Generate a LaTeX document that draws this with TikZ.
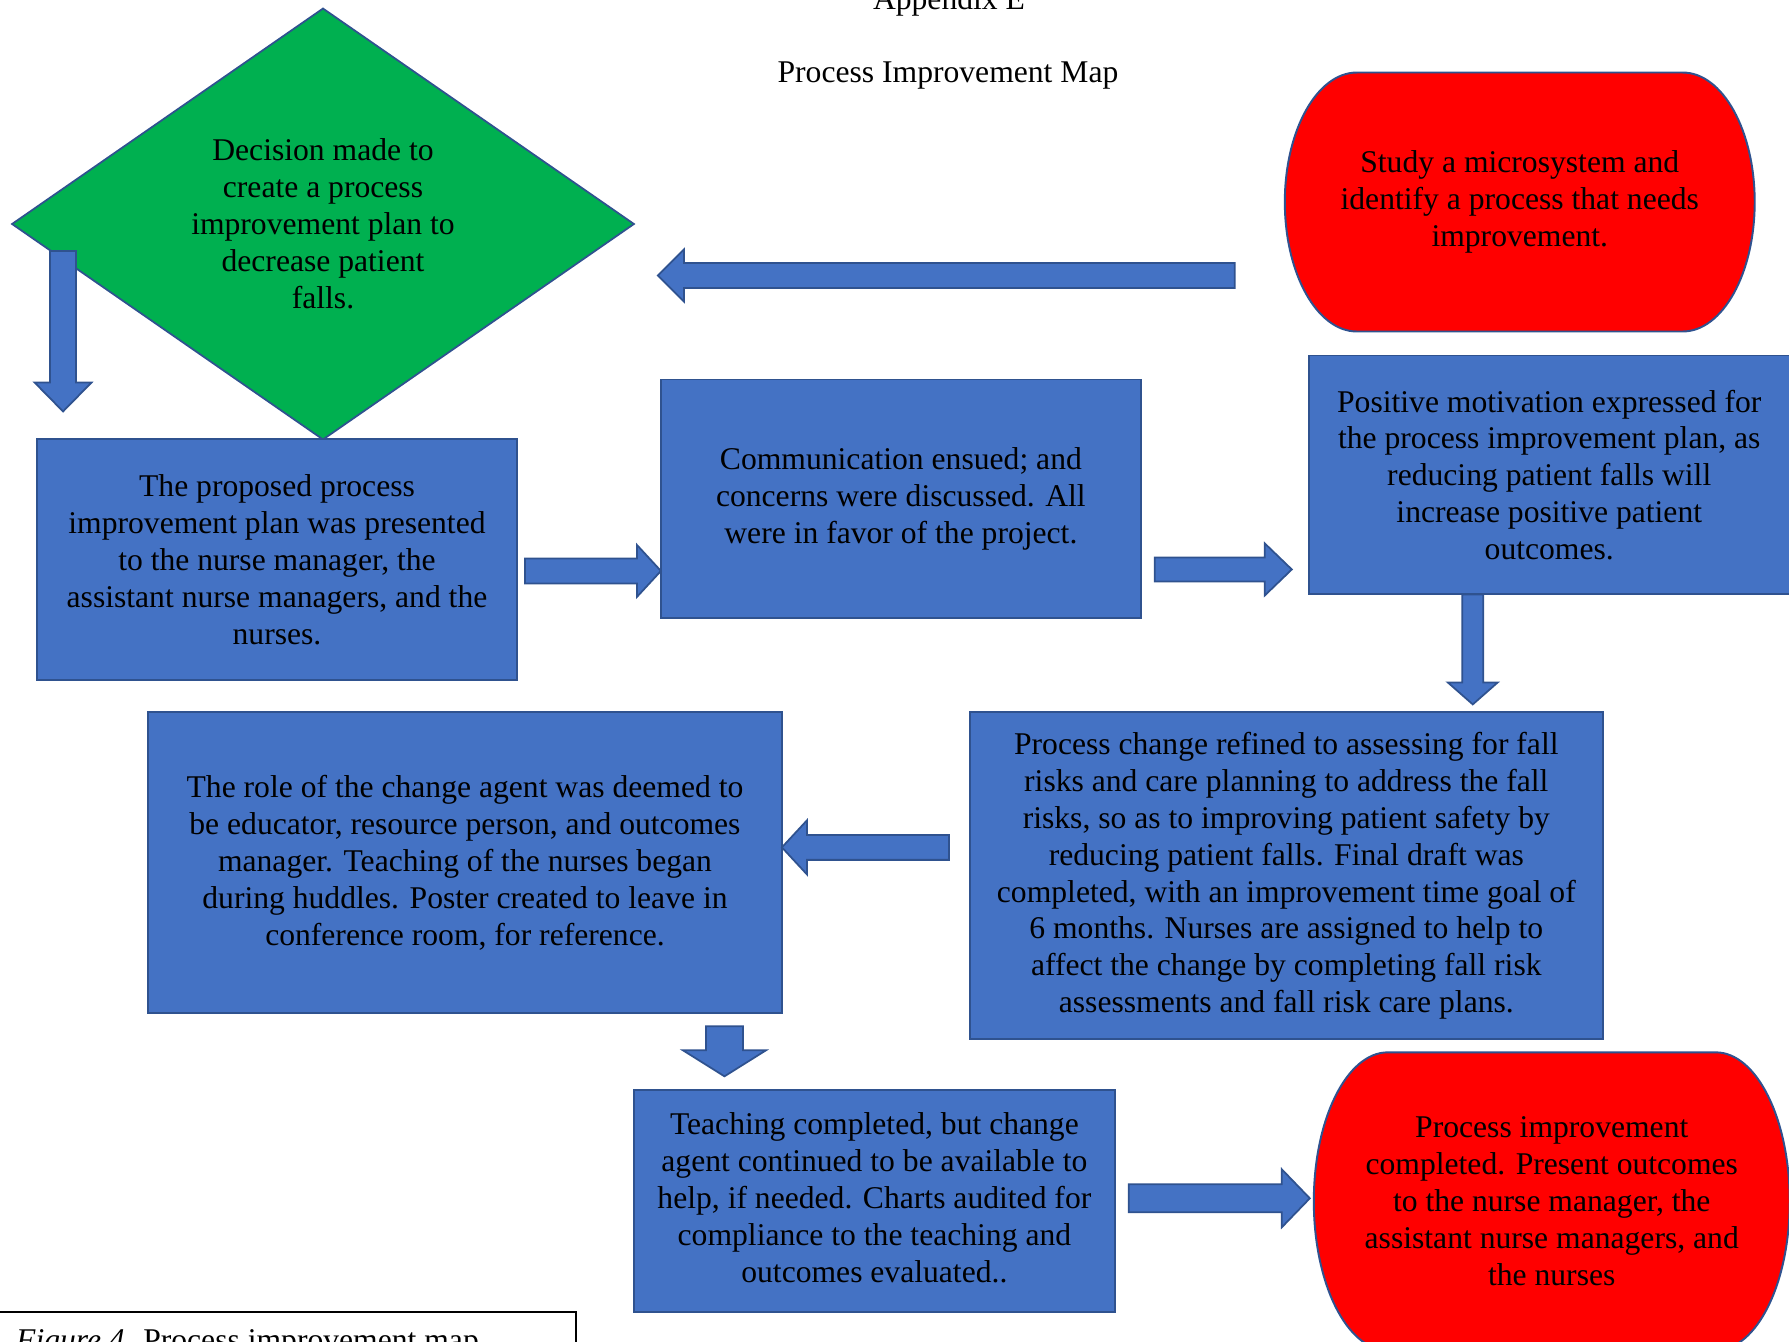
\documentclass[tikz,border=0pt]{standalone}
\usepackage{fontspec}
\setmainfont{Liberation Serif}
\usetikzlibrary{positioning,shapes.geometric,calc,backgrounds}

\definecolor{boxblue}{HTML}{4472C4}
\definecolor{edgeblue}{HTML}{2F528F}
\definecolor{flowgreen}{HTML}{00B050}

% fat arrow: from, to, half shaft, half head, head length (px)
\newcommand{\blockarrow}[5]{%
  \filldraw[arrowbody] let \p1=(#1), \p2=(#2),
    \n1={atan2(\y2-\y1,\x2-\x1)}, \n2={veclen(\x2-\x1,\y2-\y1)} in
    [shift={(\p1)}, rotate=\n1]
    (0pt,-#3*0.569pt) -- (\n2-#5*0.569pt,-#3*0.569pt) -- (\n2-#5*0.569pt,-#4*0.569pt)
    -- (\n2,0pt) -- (\n2-#5*0.569pt,#4*0.569pt) -- (\n2-#5*0.569pt,#3*0.569pt)
    -- (0pt,#3*0.569pt) -- cycle;}
% terminator outline behind a node: node, x radius, y radius
\newcommand{\terminal}[3]{%
  \filldraw[termfill] ([xshift=#2]#1.north west) -- ([xshift=-#2]#1.north east)
    arc[start angle=90, end angle=-90, x radius=#2, y radius=#3]
    -- ([xshift=#2]#1.south west)
    arc[start angle=270, end angle=90, x radius=#2, y radius=#3] -- cycle;}

\begin{document}
\begin{tikzpicture}[x=0.02cm, y=-0.02cm,
  every node/.style={font=\fontsize{18}{21}\selectfont, align=center},
  block/.style={draw=edgeblue, fill=boxblue, line width=1.1pt, inner sep=0pt, outer sep=0pt},
  decision/.style={diamond, aspect=1.44, draw=edgeblue, fill=flowgreen, line width=1pt,
    inner sep=0pt, outer sep=0pt, minimum width=12.44cm, minimum height=8.62cm},
  termtext/.style={inner sep=0pt, outer sep=0pt},
  termfill/.style={draw=edgeblue, fill=red, line width=1.1pt},
  arrowbody/.style={draw=edgeblue, fill=boxblue, line width=1pt, line join=miter}]
\useasboundingbox (0,0) rectangle (1789,1342);

\node[anchor=base] (title) at (949,10) {Appendix E};
\node[anchor=base] (subtitle) at (948,82) {Process Improvement Map};

\node[decision] (decide) at (323,224) {Decision made to\\create a process\\improvement plan to\\decrease patient\\falls.};
\node[block, minimum width=9.6cm, minimum height=4.82cm, below=0cm of decide, xshift=-0.92cm] (present)
  {The proposed process\\improvement plan was presented\\to the nurse manager, the\\assistant nurse managers, and the\\nurses.};
\node[block, minimum width=9.6cm, minimum height=4.78cm, right=2.88cm of present, yshift=1.22cm] (discuss)
  {Communication ensued; and\\concerns were discussed. All\\were in favor of the project.};
\node[block, minimum width=9.62cm, minimum height=4.78cm, right=3.36cm of discuss, yshift=0.48cm] (motivate)
  {Positive motivation expressed for\\the process improvement plan, as\\reducing patient falls will\\increase positive patient\\outcomes.};
\node[termtext, minimum width=9.4cm, minimum height=5.18cm, above=0.48cm of motivate, xshift=-0.59cm] (study)
  {Study a microsystem and\\identify a process that needs\\improvement.};
\node[block, minimum width=12.66cm, minimum height=6.54cm, below=2.36cm of motivate, xshift=-5.26cm] (refine)
  {Process change refined to assessing for fall\\risks and care planning to address the fall\\risks, so as to improving patient safety by\\reducing patient falls. Final draft was\\completed, with an improvement time goal of\\6 months. Nurses are assigned to help to\\affect the change by completing fall risk\\assessments and fall risk care plans.};
\node[block, minimum width=12.68cm, minimum height=6.02cm, left=3.76cm of refine, yshift=0.26cm] (role)
  {The role of the change agent was deemed to\\be educator, resource person, and outcomes\\manager. Teaching of the nurses began\\during huddles. Poster created to leave in\\conference room, for reference.};
\node[block, minimum width=9.62cm, minimum height=4.44cm, below=1.54cm of role, xshift=8.19cm] (teach)
  {\raisebox{5pt}{\begin{tabular}{@{}c@{}}Teaching completed, but change\\agent continued to be available to\\help, if needed. Charts audited for\\compliance to the teaching and\\outcomes evaluated..\end{tabular}}};
\node[termtext, minimum width=9.52cm, minimum height=5.96cm, right=3.98cm of teach] (report)
  {Process improvement\\completed. Present outcomes\\to the nurse manager, the\\assistant nurse managers, and\\the nurses};

\begin{scope}[on background layer]
\terminal{study}{1.44cm}{2.59cm}
\terminal{report}{1.48cm}{2.98cm}
\end{scope}

% arrows
\coordinate (a0) at ($(decide.west)+(51,27)$);
\coordinate (t0) at ($(present.north)+(0,-28)$);
\coordinate (a1) at ($(present.east)+(8,11)$);
\coordinate (a2) at ($(discuss.east)+(14,70.5)$);
\coordinate (t2) at ($(motivate.west)+(-17,0)$);
\coordinate (a3) at ($(study.west)+(-50,73.5)$);
\coordinate (t3) at ($(decide.east)+(24,0)$);
\coordinate (a4) at ($(motivate.south)+(-76.5,0)$);
\coordinate (t4) at ($(refine.north)+(0,-8)$);
\coordinate (a5) at ($(refine.west)+(-21,-28.5)$);
\coordinate (a6) at ($(role.south)+(259.5,13)$);
\coordinate (t6) at ($(teach.north)+(0,-14)$);
\coordinate (a7) at ($(teach.east)+(14,-3)$);
\coordinate (t7) at ($(report.west)+(-4,0)$);
\blockarrow{a0}{a0 |- t0}{13}{28.5}{29}
\blockarrow{a1}{a1 -| discuss.west}{12.5}{26}{24}
\blockarrow{a2}{a2 -| t2}{12}{26}{27}
\blockarrow{a3}{a3 -| t3}{12.5}{26}{26}
\blockarrow{a4}{a4 |- t4}{10.5}{25}{22}
\blockarrow{a5}{a5 -| role.east}{12.5}{27}{25}
\blockarrow{a6}{a6 |- t6}{18.5}{41.5}{26}
\blockarrow{a7}{a7 -| t7}{14}{29}{28}

\node[anchor=base west] (caption) at (10,1350) {\textit{Figure 4.} Process improvement map.};
\draw[line width=0.6pt] (-2,1312) rectangle (576,1400);
\end{tikzpicture}
\end{document}
